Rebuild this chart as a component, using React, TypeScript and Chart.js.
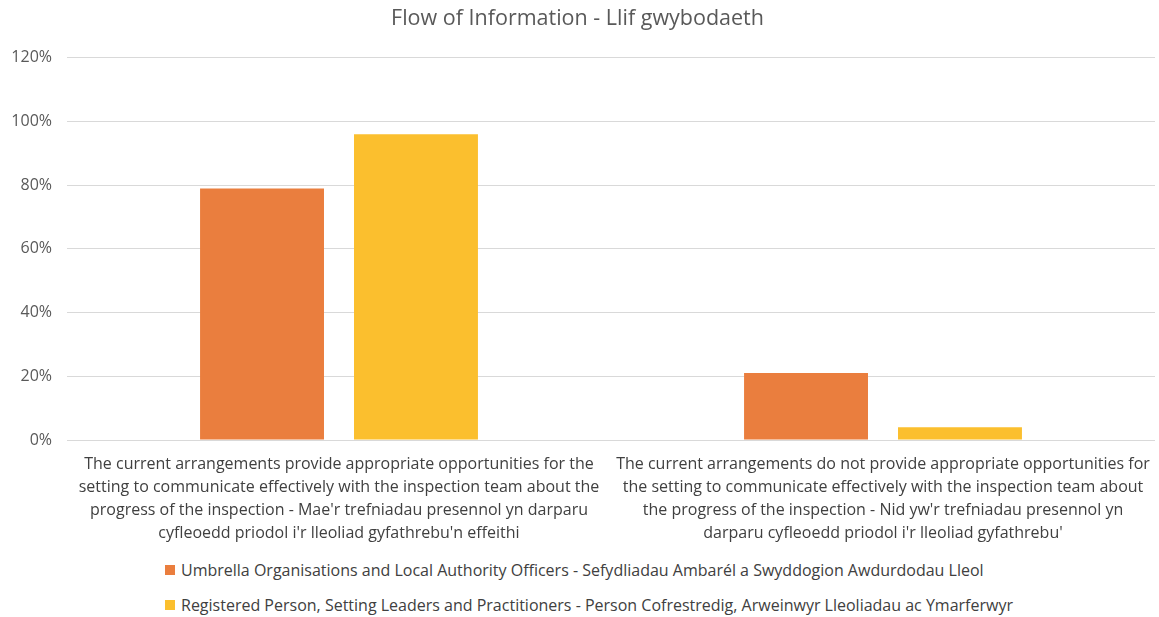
import React, { useEffect, useRef } from "react";
import { Chart, registerables } from "chart.js";

Chart.register(...registerables);

const title = "Flow of Information - Llif gwybodaeth";
const categories: string[][] = [
  [
    "The current arrangements provide appropriate opportunities for the",
    "setting to communicate effectively with the inspection team about the",
    "progress of the inspection - Mae'r trefniadau presennol yn darparu",
    "cyfleoedd priodol i'r lleoliad gyfathrebu'n effeithi",
  ],
  [
    "The current arrangements do not provide appropriate opportunities for",
    "the setting to communicate effectively with the inspection team about",
    "the progress of the inspection - Nid yw'r trefniadau presennol yn",
    "darparu cyfleoedd priodol i'r lleoliad gyfathrebu'",
  ],
];
const seriesNames = [
  "Umbrella Organisations and Local Authority Officers - Sefydliadau Ambarél a Swyddogion Awdurdodau Lleol",
  "Registered Person, Setting Leaders and Practitioners - Person Cofrestredig, Arweinwyr Lleoliadau ac Ymarferwyr",
];
const umbrellaValues = [79, 21];
const registeredValues = [96, 4];
const seriesColors = ["#EA7E3E", "#FBBF2E"];
const yTickMax = 120;
const yTickStep = 20;

const FONT = "'Open Sans', Lato, 'Liberation Sans', sans-serif";

export default function App() {
  const canvasRef = useRef<HTMLCanvasElement | null>(null);

  useEffect(() => {
    if (!canvasRef.current) return;
    const chart = new Chart(canvasRef.current, {
      type: "bar",
      data: {
        labels: categories,
        datasets: [
          {
            label: seriesNames[0],
            data: umbrellaValues,
            backgroundColor: seriesColors[0],
            categoryPercentage: 0.566,
            barPercentage: 0.805,
          },
          {
            label: seriesNames[1],
            data: registeredValues,
            backgroundColor: seriesColors[1],
            categoryPercentage: 0.566,
            barPercentage: 0.805,
          },
        ],
      },
      options: {
        animation: false,
        responsive: false,
        layout: { padding: { left: 0, right: 4, top: 0, bottom: 0 } },
        plugins: {
          legend: { display: false },
          tooltip: { enabled: false },
          title: {
            display: true,
            text: title,
            color: "#595959",
            font: { family: FONT, size: 21.5, weight: "normal" },
            padding: { top: 6, bottom: 26 },
          },
        },
        scales: {
          x: {
            grid: { display: false },
            border: { display: false },
            ticks: {
              color: "#404040",
              font: { family: FONT, size: 16, lineHeight: 1.43 },
              padding: 5,
              maxRotation: 0,
              autoSkip: false,
            },
            afterFit: (scale: any) => {
              scale.height = 110;
            },
          },
          y: {
            min: 0,
            max: yTickMax,
            border: { display: false },
            grid: { color: "#D9D9D9", lineWidth: 1, drawTicks: false },
            ticks: {
              stepSize: yTickStep,
              color: "#595959",
              font: { family: FONT, size: 16 },
              padding: 15,
              callback: (v: any) => `${v}%`,
            },
            afterFit: (scale: any) => {
              scale.width = 67;
            },
          },
        },
      },
    });
    return () => chart.destroy();
  }, []);

  return (
    <div
      style={{
        position: "fixed",
        left: 0,
        top: 0,
        width: 1159,
        height: 617,
        background: "#fff",
      }}
    >
      <canvas ref={canvasRef} width={1159} height={550} style={{ display: "block" }} />
      {seriesNames.map((name, i) => (
        <div
          key={name}
          style={{
            position: "absolute",
            left: 165,
            top: 560 + i * 35,
            height: 20,
            display: "flex",
            alignItems: "center",
            fontFamily: FONT,
            fontSize: 16,
            color: "#404040",
            whiteSpace: "nowrap",
          }}
        >
          <span
            style={{
              display: "inline-block",
              width: 10,
              height: 10,
              background: seriesColors[i],
              marginRight: 6,
            }}
          />
          {name}
        </div>
      ))}
    </div>
  );
}
